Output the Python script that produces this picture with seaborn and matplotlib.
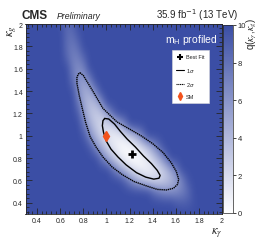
import numpy as np
import matplotlib
matplotlib.use("Agg")
import matplotlib.pyplot as plt
from matplotlib.colors import LinearSegmentedColormap
from matplotlib.lines import Line2D
from matplotlib.ticker import MultipleLocator
import seaborn as sns

# likelihood scan q(kappa_gamma, kappa_g) (10 = saturated)
kgam_nodes = np.round(np.arange(0.30, 2.001, 0.05), 2)
kg_nodes = np.round(np.arange(0.30, 2.001, 0.10), 2)
q_max = 10.0
q_rows = {
    2.0: {0.60: 9.7, 0.65: 8.5, 0.70: 8.8},
    1.9: {0.65: 8.4, 0.70: 8.1, 0.75: 9.3},
    1.8: {0.65: 8.3, 0.70: 7.5, 0.75: 8.3},
    1.7: {0.65: 8.7, 0.70: 7.2, 0.75: 7.2, 0.80: 8.7},
    1.6: {0.70: 7.5, 0.75: 6.3, 0.80: 7.1, 0.85: 9.9},
    1.5: {0.70: 8.2, 0.75: 6.0, 0.80: 5.6, 0.85: 7.1},
    1.4: {0.70: 9.8, 0.75: 6.4, 0.80: 4.7, 0.85: 4.9, 0.90: 6.9},
    1.3: {0.75: 7.7, 0.80: 4.9, 0.85: 3.7, 0.90: 4.2, 0.95: 6.4},
    1.2: {0.75: 9.2, 0.80: 5.8, 0.85: 3.7, 0.90: 2.9, 0.95: 3.4, 1.00: 5.3, 1.05: 8.4},
    1.1: {0.80: 7.5, 0.85: 4.9, 0.90: 3.1, 0.95: 2.2, 1.00: 2.1, 1.05: 2.8, 1.10: 4.5,
          1.15: 6.9},
    1.0: {0.80: 9.4, 0.85: 6.6, 0.90: 4.3, 0.95: 2.7, 1.00: 1.6, 1.05: 1.0, 1.10: 1.1,
          1.15: 1.7, 1.20: 2.9, 1.25: 4.7, 1.30: 7.1},
    0.9: {0.85: 9.4, 0.90: 6.7, 0.95: 4.5, 1.00: 2.7, 1.05: 1.5, 1.10: 0.6, 1.15: 0.3,
          1.20: 0.5, 1.25: 1.1, 1.30: 2.2, 1.35: 3.7, 1.40: 5.8, 1.45: 8.3},
    0.8: {0.95: 7.9, 1.00: 5.4, 1.05: 3.3, 1.10: 1.8, 1.15: 0.7, 1.20: 0.2, 1.25: 0.1,
          1.30: 0.6, 1.35: 1.5, 1.40: 3.0, 1.45: 4.9, 1.50: 7.4},
    0.7: {1.05: 8.2, 1.10: 5.8, 1.15: 3.9, 1.20: 2.4, 1.25: 1.4, 1.30: 0.9, 1.35: 0.8,
          1.40: 1.3, 1.45: 2.2, 1.50: 3.5, 1.55: 5.4, 1.60: 7.7},
    0.6: {1.15: 9.0, 1.20: 6.8, 1.25: 5.0, 1.30: 3.7, 1.35: 2.8, 1.40: 2.4, 1.45: 2.5,
          1.50: 3.0, 1.55: 3.9, 1.60: 5.3, 1.65: 7.2, 1.70: 9.5},
    0.5: {1.35: 9.9, 1.40: 8.3, 1.45: 7.2, 1.50: 6.5, 1.55: 6.3, 1.60: 6.5, 1.65: 7.2,
          1.70: 8.3, 1.75: 9.9},
    0.4: {1.60: 9.3, 1.65: 9.0, 1.70: 9.1, 1.75: 9.7},
    0.3: {},
}

# 68% and 95% CL contours
sig1_x = [0.985, 1.02, 1.07, 1.12, 1.18, 1.25, 1.32, 1.39, 1.44, 1.465, 1.455, 1.41,
          1.34, 1.26, 1.17, 1.10, 1.04, 1.0, 0.975, 0.965, 0.97, 0.985]
sig1_y = [1.155, 1.15, 1.105, 1.04, 0.97, 0.90, 0.82, 0.75, 0.69, 0.645, 0.62, 0.612,
          0.63, 0.67, 0.74, 0.81, 0.88, 0.95, 1.03, 1.09, 1.135, 1.155]
sig2_x = [0.77, 0.80, 0.885, 0.97, 1.09, 1.20, 1.30, 1.40, 1.49, 1.56, 1.605, 1.625,
          1.615, 1.58, 1.52, 1.44, 1.35, 1.24, 1.14, 1.05, 0.97, 0.91, 0.86, 0.82,
          0.79, 0.765, 0.745, 0.745, 0.755, 0.77]
sig2_y = [1.565, 1.54, 1.395, 1.245, 1.125, 1.06, 1.0, 0.93, 0.85, 0.76, 0.68, 0.61,
          0.565, 0.53, 0.515, 0.52, 0.55, 0.59, 0.65, 0.72, 0.81, 0.90, 0.99, 1.12,
          1.25, 1.36, 1.47, 1.52, 1.55, 1.565]

best_fit = (1.22, 0.84)
sm_point = (1.0, 1.0)

q_grid = np.full((len(kg_nodes), len(kgam_nodes)), q_max)
for yv, row in q_rows.items():
    iy = int(np.argmin(np.abs(kg_nodes - yv)))
    for xv, qv in row.items():
        ix = int(np.argmin(np.abs(kgam_nodes - xv)))
        q_grid[iy, ix] = qv

sns.set_style("ticks")
plt.rcParams["font.family"] = ["Liberation Sans", "DejaVu Sans"]

fig = plt.figure(figsize=(2.61, 2.53), dpi=100)
ax = fig.add_axes([25.5 / 261, 1 - 215 / 253, 196.5 / 261, 190 / 253])

cmap = LinearSegmentedColormap.from_list("qmap", ["#ffffff", "#3b4ea5"])
im = ax.imshow(q_grid, origin="lower", cmap=cmap, vmin=0, vmax=10,
               extent=(0.275, 2.025, 0.25, 2.05), aspect="auto",
               interpolation="bicubic")

sns.lineplot(x=sig2_x, y=sig2_y, sort=False, estimator=None, ax=ax, color="black",
             lw=1.0, linestyle=(0, (1, 0.5)))
sns.lineplot(x=sig1_x, y=sig1_y, sort=False, estimator=None, ax=ax, color="black",
             lw=1.0)
ax.plot([best_fit[0]], [best_fit[1]], marker="+", color="black", ms=6, mew=2)
ax.plot([sm_point[0]], [sm_point[1]], marker="d", color="#f2521c", ms=5, mec="#f2521c")

ax.set_xlim(0.3, 2.0)
ax.set_ylim(0.3, 2.0)
ax.xaxis.set_minor_locator(MultipleLocator(0.04))
ax.yaxis.set_minor_locator(MultipleLocator(0.04))
ax.set_xticks([0.4, 0.6, 0.8, 1.0, 1.2, 1.4, 1.6, 1.8, 2.0],
              ["0.4", "0.6", "0.8", "1", "1.2", "1.4", "1.6", "1.8", "2"])
ax.set_yticks([0.4, 0.6, 0.8, 1.0, 1.2, 1.4, 1.6, 1.8, 2.0],
              ["0.4", "0.6", "0.8", "1", "1.2", "1.4", "1.6", "1.8", "2"])
ax.tick_params(which="both", direction="in", top=True, right=True, width=0.6,
               labelsize=5, pad=2)
ax.tick_params(which="major", length=4)
ax.tick_params(which="minor", length=2)
for sp in ax.spines.values():
    sp.set_linewidth(0.6)

ax.set_xlabel(r"$\kappa_{\gamma}$", loc="right", fontsize=9, labelpad=1,
              math_fontfamily="stix")
ax.set_ylabel(r"$\kappa_{g}$", loc="top", fontsize=9, math_fontfamily="stix")
ax.yaxis.set_label_coords(-0.035, 1.0)

ax.text(0.975, 0.92, r"m$_\mathregular{H}$ profiled", transform=ax.transAxes,
        ha="right", va="center", color="white", fontsize=7.5)

handles = [
    Line2D([], [], marker="+", color="black", ls="none", ms=4, mew=1.5),
    Line2D([], [], color="black", lw=0.8),
    Line2D([], [], color="black", lw=0.8, ls=(0, (1, 0.6))),
    Line2D([], [], marker="d", color="#f2521c", ls="none", ms=4),
]
leg = ax.legend(handles, ["Best Fit", r"1$\sigma$", r"2$\sigma$", "SM"],
                loc="upper left", bbox_to_anchor=(0.745, 0.863), fontsize=4,
                frameon=True, fancybox=False, framealpha=1, edgecolor="#dddddd",
                handlelength=1.3, handletextpad=0.4, labelspacing=1.1,
                borderpad=0.8, borderaxespad=0)
leg.get_frame().set_linewidth(0.4)

cax = fig.add_axes([223 / 261, 1 - 214 / 253, 10 / 261, 188 / 253])
cb = fig.colorbar(im, cax=cax, ticks=[0, 2, 4, 6, 8, 10])
cb.outline.set_linewidth(0.5)
cax.tick_params(labelsize=5.5, length=2.5, width=0.6, pad=0.8)
fig.text(252 / 261, 1 - 18 / 253, r"q($\kappa_{\gamma}$,$\kappa_{g}$)",
         rotation=90, ha="center", va="top", fontsize=7, math_fontfamily="stix")

fig.text(22 / 261, 1 - 19 / 253, "CMS", fontsize=8.5, fontweight="bold",
         ha="left", va="baseline")
fig.text(57 / 261, 1 - 19 / 253, "Preliminary", fontsize=6.3, style="italic",
         ha="left", va="baseline")
fig.text(238 / 261, 1 - 19 / 253, r"35.9 fb$^{-1}$ (13 TeV)", fontsize=7,
         ha="right", va="baseline")

fig.savefig("out.png", dpi=100, facecolor="white")
